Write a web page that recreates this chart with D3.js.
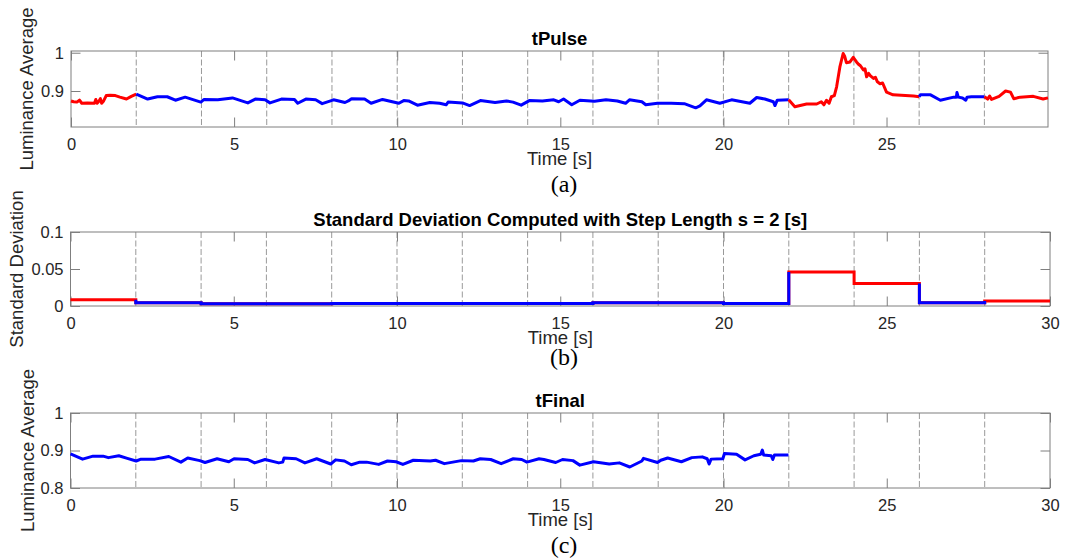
<!DOCTYPE html>
<html>
<head>
<meta charset="utf-8">
<script src="https://cdn.jsdelivr.net/npm/d3@7"></script>
<style>
body { margin: 0; background: #fff; }
svg { display: block; }
</style>
</head>
<body>
<svg id="fig" width="1068" height="559"></svg>
<script>
//	DATA

// window boundaries (2 s steps) and the dashed lines drawn on each of them
var gridTimes = [2, 4, 6, 8, 10, 12, 14, 16, 18, 20, 22, 24, 26, 28];
var windowStarts = [0, 2, 4, 6, 8, 10, 12, 14, 16, 18, 20, 22, 24, 26, 28];
var stdValues = [0.0085, 0.0043, 0.0030, 0.0030, 0.0035, 0.0035, 0.0035, 0.0035,
	0.0043, 0.0043, 0.0035, 0.0458, 0.0304, 0.0043, 0.0067];
var windowFlag = [1, 0, 0, 0, 0, 0, 0, 0, 0, 0, 0, 1, 1, 0, 1]; // 1 = red window

var xTicks = [0, 5, 10, 15, 20, 25, 30];
var lumTicksA = [0.9, 1];
var stdTicks = [0, 0.05, 0.1];
var lumTicksC = [0.8, 0.9, 1];

// tPulse luminance average [time s, value]
var pulseSeries = [
	[0.00,0.874],[0.08,0.872],[0.18,0.871],[0.26,0.876],[0.33,0.868],[0.50,0.869],[0.72,0.868],
	[0.76,0.878],[0.80,0.868],[0.86,0.874],[0.90,0.880],[0.94,0.868],[1.00,0.874],[1.08,0.888],
	[1.20,0.889],[1.36,0.888],[1.50,0.884],[1.70,0.879],[1.85,0.886],[2.00,0.892],
	[2.35,0.879],[2.65,0.885],[2.95,0.885],[3.20,0.876],[3.50,0.884],[3.98,0.871],[4.08,0.878],
	[4.50,0.877],[4.95,0.882],[5.42,0.869],[5.65,0.879],[5.95,0.877],[6.10,0.869],[6.45,0.879],
	[6.85,0.878],[6.95,0.868],[7.20,0.879],[7.50,0.877],[7.70,0.867],[8.05,0.877],[8.40,0.870],
	[8.50,0.874],[8.60,0.880],[9.00,0.879],[9.20,0.868],[9.55,0.878],[10.05,0.868],[10.20,0.875],
	[10.35,0.874],[10.62,0.863],[11.00,0.870],[11.30,0.868],[11.50,0.864],[11.56,0.871],[12.00,0.869],
	[12.22,0.862],[12.55,0.875],[13.00,0.870],[13.35,0.874],[13.55,0.871],[13.80,0.863],[14.05,0.875],
	[14.45,0.874],[14.80,0.877],[14.95,0.872],[15.10,0.879],[15.35,0.864],[15.60,0.876],[16.05,0.873],
	[16.40,0.877],[16.75,0.874],[17.00,0.868],[17.12,0.877],[17.50,0.872],[17.62,0.864],[17.98,0.868],
	[18.40,0.868],[18.80,0.867],[19.15,0.856],[19.28,0.861],[19.48,0.877],[19.89,0.868],[20.25,0.877],
	[20.81,0.868],[21.02,0.883],[21.27,0.879],[21.53,0.872],[21.58,0.862],[21.65,0.876],[22.00,0.877],
	[22.19,0.859],[22.55,0.866],[22.86,0.866],[23.00,0.872],[23.08,0.864],[23.16,0.876],[23.24,0.868],
	[23.31,0.885],[23.40,0.888],[23.47,0.911],[23.57,0.963],[23.67,0.998],[23.72,0.990],[23.77,0.974],
	[23.88,0.976],[23.98,0.988],[24.08,0.976],[24.14,0.970],[24.20,0.966],[24.29,0.955],[24.34,0.958],
	[24.39,0.937],[24.45,0.946],[24.50,0.940],[24.60,0.933],[24.66,0.936],[24.72,0.924],[24.80,0.919],
	[24.88,0.921],[25.00,0.897],[25.20,0.890],[25.45,0.889],[25.83,0.887],[26.00,0.885],
	[26.04,0.890],[26.35,0.890],[26.65,0.876],[27.06,0.884],[27.14,0.884],[27.16,0.896],[27.20,0.884],
	[27.33,0.882],[27.43,0.876],[27.47,0.884],[27.60,0.885],[28.00,0.885],
	[28.10,0.879],[28.16,0.887],[28.22,0.878],[28.45,0.886],[28.65,0.900],[28.80,0.897],[28.90,0.880],
	[29.10,0.884],[29.50,0.886],[29.80,0.879],[29.95,0.882]
];

// tFinal luminance average [time s, value]
var finalSeries = [
	[0.00,0.891],[0.37,0.877],[0.69,0.885],[1.00,0.885],[1.16,0.881],[1.48,0.886],[1.74,0.879],
	[2.01,0.872],[2.16,0.877],[2.59,0.877],[3.01,0.884],[3.38,0.869],[3.59,0.880],[3.96,0.873],
	[4.12,0.868],[4.49,0.878],[4.85,0.870],[5.01,0.878],[5.43,0.876],[5.64,0.867],[5.96,0.876],
	[6.38,0.867],[6.50,0.869],[6.54,0.880],[6.91,0.878],[7.18,0.867],[7.54,0.878],[7.97,0.864],
	[8.12,0.875],[8.39,0.872],[8.60,0.862],[8.86,0.869],[9.07,0.869],[9.44,0.863],[9.71,0.872],
	[9.97,0.870],[10.18,0.863],[10.50,0.874],[11.02,0.872],[11.18,0.874],[11.45,0.865],[11.97,0.873],
	[12.34,0.872],[12.55,0.878],[12.87,0.876],[13.19,0.865],[13.56,0.878],[13.82,0.876],[13.98,0.869],
	[14.35,0.878],[14.50,0.876],[14.86,0.868],[15.07,0.876],[15.39,0.873],[15.60,0.861],[16.02,0.870],
	[16.50,0.864],[16.81,0.867],[17.13,0.856],[17.50,0.872],[17.55,0.879],[17.98,0.868],[18.08,0.874],
	[18.29,0.880],[18.71,0.870],[19.03,0.881],[19.35,0.883],[19.50,0.878],[19.56,0.864],[19.62,0.877],
	[19.98,0.878],[20.03,0.892],[20.40,0.890],[20.66,0.875],[20.93,0.886],[21.14,0.890],[21.19,0.901],
	[21.23,0.888],[21.46,0.886],[21.51,0.876],[21.56,0.888],[21.99,0.888]
];

//	DRAWING

var RED = "#ff0000", BLUE = "#0000ff", TXT = "#262626", AX = "#7f7f7f";
var SANS = "'Liberation Sans', Arial, Helvetica, sans-serif";
var svg = d3.select("#fig");
svg.append("rect").attr("width", 1068).attr("height", 559).attr("fill", "#fff");

var line = d3.line();
var tickLen = 9.5;

// runs of consecutive windows with the same colour
var runs = [];
windowStarts.forEach(function(s, i) {
	var last = runs[runs.length - 1];
	if (last && last.flag === windowFlag[i]) { last.end = s + 2; last.idx.push(i); }
	else runs.push({ start: s, end: s + 2, flag: windowFlag[i], idx: [i] });
});

function panel(c) {
	var g = svg.append("g");
	var x = d3.scaleLinear().domain(c.xDomain).range([c.left, c.right]);
	var y = d3.scaleLinear().domain(c.yDomain).range([c.bottom, c.top]);
	var xt = xTicks.filter(function(d) { return d <= c.xDomain[1]; });

	// dashed window lines
	g.selectAll("line.win").data(gridTimes).join("line")
		.attr("x1", function(d) { return x(d); }).attr("x2", function(d) { return x(d); })
		.attr("y1", c.top).attr("y2", c.bottom)
		.attr("stroke", "#777").attr("stroke-width", 0.75)
		.attr("stroke-dasharray", "6,2.5");

	// box
	g.append("rect").attr("x", c.left).attr("y", c.top)
		.attr("width", c.right - c.left).attr("height", c.bottom - c.top)
		.attr("fill", "none").attr("stroke", AX).attr("stroke-width", 1);

	// axes, ticks inside on all four sides
	var ax = [
		[d3.axisBottom(x).tickValues(xt).tickFormat(function(d) { return d; }).tickPadding(11.5), "translate(0," + c.bottom + ")"],
		[d3.axisTop(x).tickValues(xt).tickFormat(""), "translate(0," + c.top + ")"],
		[d3.axisLeft(y).tickValues(c.yTicks).tickFormat(function(d) { return d; }).tickPadding(7), "translate(" + c.left + ",0)"],
		[d3.axisRight(y).tickValues(c.yTicks).tickFormat(""), "translate(" + c.right + ",0)"]
	];
	ax.forEach(function(a) {
		var s = g.append("g").attr("transform", a[1])
			.call(a[0].tickSizeInner(-tickLen).tickSizeOuter(0));
		s.select(".domain").remove();
		s.selectAll(".tick line").attr("stroke", AX);
		s.selectAll(".tick text").attr("fill", TXT).style("font-family", SANS).style("font-size", "16.5px");
	});

	// title, labels, caption
	g.append("text").attr("x", (c.left + c.right) / 2).attr("y", c.top - 6)
		.attr("text-anchor", "middle").attr("fill", "#000")
		.style("font-family", SANS).style("font-size", "18.5px").style("font-weight", "bold")
		.text(c.title);
	g.append("text").attr("x", (c.left + c.right) / 2).attr("y", c.bottom + 38)
		.attr("text-anchor", "middle").attr("fill", TXT)
		.style("font-family", SANS).style("font-size", "18.5px")
		.text("Time [s]");
	g.append("text")
		.attr("transform", "translate(" + c.ylabelX + "," + (c.top + c.bottom) / 2 + ") rotate(-90)")
		.attr("text-anchor", "middle").attr("dy", "0.35em").attr("fill", TXT)
		.style("font-family", SANS).style("font-size", "18.5px")
		.text(c.ylabel);
	g.append("text").attr("x", 564).attr("y", c.captionY)
		.attr("text-anchor", "middle").attr("fill", "#000")
		.style("font-family", "'Liberation Serif', 'Times New Roman', serif").style("font-size", "24px")
		.text(c.caption);

	return { g: g, x: x, y: y };
}

// (a) tPulse
var pa = panel({ left: 71, right: 1048, top: 51, bottom: 127, xDomain: [0, 29.95], yDomain: [0.806, 1.0045],
	yTicks: lumTicksA, title: "tPulse", ylabel: "Luminance Average", ylabelX: 27, caption: "(a)", captionY: 192 });
runs.forEach(function(r) {
	var pts = pulseSeries.filter(function(d) { return d[0] >= r.start && d[0] <= r.end; });
	pa.g.append("path")
		.attr("d", line(pts.map(function(d) { return [pa.x(d[0]), pa.y(d[1])]; })))
		.attr("fill", "none").attr("stroke", r.flag ? RED : BLUE)
		.attr("stroke-width", 3).attr("stroke-linejoin", "round");
});

// (b) standard deviation per window
var pb = panel({ left: 70.5, right: 1050, top: 232, bottom: 306, xDomain: [0, 30], yDomain: [0, 0.1],
	yTicks: stdTicks, title: "Standard Deviation Computed with Step Length s = 2 [s]",
	ylabel: "Standard Deviation", ylabelX: 17, caption: "(b)", captionY: 365 });
var redStairs = [];
windowStarts.forEach(function(s, i) {
	redStairs.push([pb.x(s), pb.y(stdValues[i])], [pb.x(s + 2), pb.y(stdValues[i])]);
});
pb.g.append("path").attr("d", line(redStairs))
	.attr("fill", "none").attr("stroke", RED).attr("stroke-width", 3);
runs.filter(function(r) { return !r.flag; }).forEach(function(r) {
	var pts = [], first = r.idx[0], last = r.idx[r.idx.length - 1];
	if (first > 0) pts.push([pb.x(r.start), pb.y(stdValues[first - 1])]);
	r.idx.forEach(function(i) {
		pts.push([pb.x(windowStarts[i]), pb.y(stdValues[i])], [pb.x(windowStarts[i] + 2), pb.y(stdValues[i])]);
	});
	if (last < stdValues.length - 1) pts.push([pb.x(r.end), pb.y(stdValues[last + 1])]);
	pb.g.append("path").attr("d", line(pts))
		.attr("fill", "none").attr("stroke", BLUE).attr("stroke-width", 3);
});

// (c) tFinal
var pc = panel({ left: 70.5, right: 1050, top: 413, bottom: 488, xDomain: [0, 30], yDomain: [0.8, 1],
	yTicks: lumTicksC, title: "tFinal", ylabel: "Luminance Average", ylabelX: 27.5, caption: "(c)", captionY: 553 });
pc.g.append("path")
	.attr("d", line(finalSeries.map(function(d) { return [pc.x(d[0]), pc.y(d[1])]; })))
	.attr("fill", "none").attr("stroke", BLUE)
	.attr("stroke-width", 3).attr("stroke-linejoin", "round");
</script>
</body>
</html>
